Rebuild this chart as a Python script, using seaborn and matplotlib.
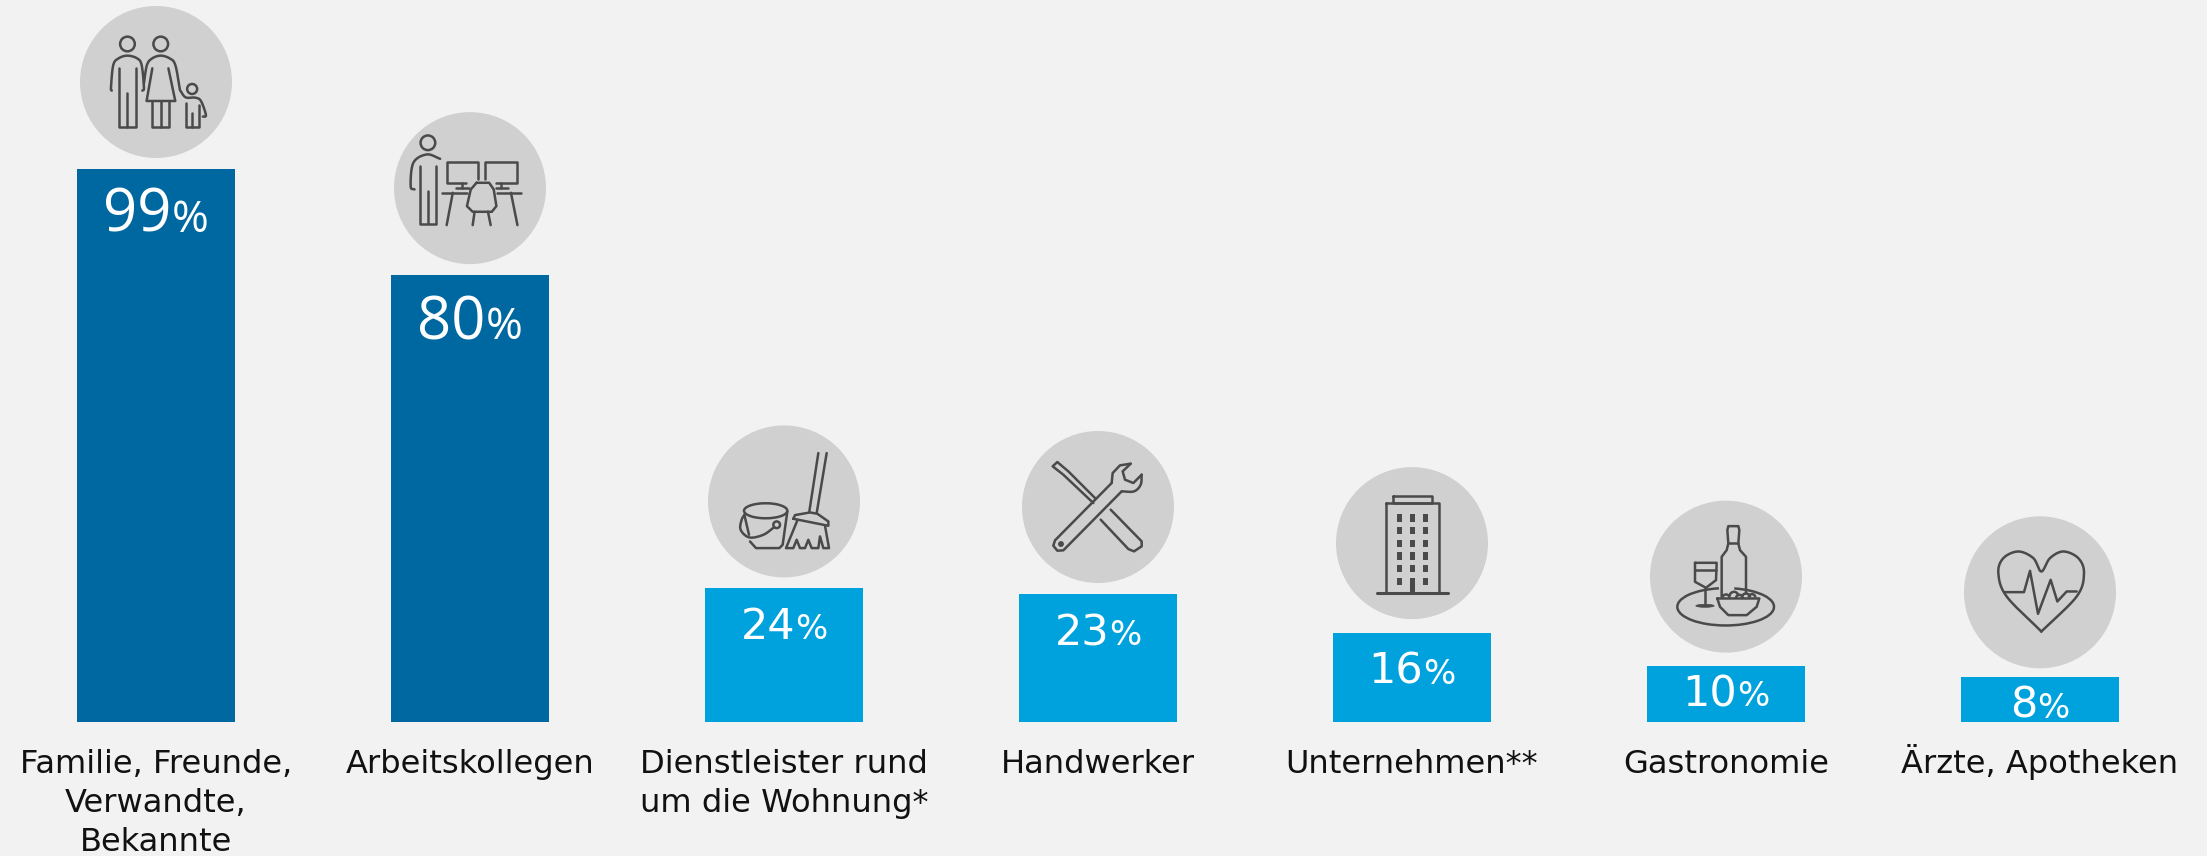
import numpy as np
import pandas as pd
import matplotlib
matplotlib.use("Agg")
import matplotlib.pyplot as plt
from matplotlib.patches import Circle, Ellipse, Arc, Rectangle
import seaborn as sns

# Survey values
categories = ["Familie, Freunde,\nVerwandte,\nBekannte", "Arbeitskollegen",
              "Dienstleister rund\num die Wohnung*", "Handwerker",
              "Unternehmen**", "Gastronomie", "Ärzte, Apotheken"]
shares = [99, 80, 24, 23, 16, 10, 8]
groups = ["privat", "privat", "extern", "extern", "extern", "extern", "extern"]

# Colours
BG = "#f2f2f2"
DARK = "#0068a0"
LIGHT = "#00a2de"
DISC = "#d0d0d0"
INK = "#4a4a4a"

# Layout in pixels
W, H = 2207, 856
BASE_Y = 722
PX_PER_PCT = 5.586
STEP = 314
FIRST_X = 156
LABEL_DROP = [63, 64, 51, 51.5, 51, 40, 40.5]
DISC_GAP = [87, 87, 86.5, 86.5, 89.5, 89.5, 85]
DISC_R = 76

sns.set_theme(style="white", rc={"figure.facecolor": BG, "axes.facecolor": BG})
plt.rcParams["font.family"] = ["DejaVu Sans"]

fig = plt.figure(figsize=(W / 100, H / 100), dpi=100)
ax = fig.add_axes([0, (H - BASE_Y) / H, 1, BASE_Y / H])
df = pd.DataFrame({"cat": categories, "share": shares, "group": groups})
sns.barplot(data=df, x="cat", y="share", hue="group",
            palette={"privat": DARK, "extern": LIGHT}, dodge=False,
            width=0.502, legend=False, ax=ax, saturation=1, linewidth=0)
ax.set_xlim(-FIRST_X / STEP, (W - FIRST_X) / STEP)
ax.set_ylim(0, BASE_Y / PX_PER_PCT)
ax.set_xlabel("")
ax.set_ylabel("")
ax.set_yticks([])
for s in ax.spines.values():
    s.set_visible(False)
ax.tick_params(axis="x", length=0, pad=19.5)
for t in ax.get_xticklabels():
    t.set_fontsize(23.1)
    t.set_color("#111111")
    t.set_linespacing(1.33)
    t.set_ha("center")
    t.set_va("top")
    t.set_multialignment("center")
# The umlaut makes this label taller, so lift it back onto the shared baseline
ax.xaxis.get_major_ticks()[6].set_pad(15.5)

# Transparent pixel-space layer for the value labels and icons
ov = fig.add_axes([0, 0, 1, 1], facecolor="none")
ov.set_xlim(0, W)
ov.set_ylim(H, 0)
ov.axis("off")


def bar_top_px(i):
    x, y = ax.transData.transform((i, shares[i]))
    return x, H - y


renderer = fig.canvas.get_renderer()
for i, v in enumerate(shares):
    x, top = bar_top_px(i)
    big = i < 2
    num_font = "Open Sans" if big else "DejaVu Sans"
    num = ov.text(0, top + LABEL_DROP[i], str(v), color="white", family=num_font,
                  fontsize=43 if big else 31, ha="left", va="baseline")
    pct = ov.text(0, top + LABEL_DROP[i], "%", color="white", family=num_font,
                  fontsize=32 if big else 24.5, ha="left", va="baseline")
    w1 = num.get_window_extent(renderer).width
    w2 = pct.get_window_extent(renderer).width
    num.set_x(x - (w1 + w2) / 2)
    pct.set_x(x - (w1 + w2) / 2 + w1)


# Icon outlines are written on a grid of three units per pixel around a pivot
class Icon:
    def __init__(self, cx, cy, pivot, sx=3.0, sy=3.0):
        self.cx, self.cy, self.px, self.py, self.sx, self.sy = cx, cy, *pivot, sx, sy

    def xy(self, pts):
        a = np.asarray(pts, float)
        return (self.cx + (a[:, 0] - self.px) / self.sx,
                self.cy + (a[:, 1] - self.py) / self.sy)

    def line(self, *pts, curve=False, lw=1.8, close=False):
        x, y = self.xy(pts)
        if close:
            x, y = np.r_[x, x[0]], np.r_[y, y[0]]
        if curve and len(x) > 2:
            x, y = catmull(x, y)
        ov.plot(x, y, color=INK, lw=lw, solid_capstyle="round",
                solid_joinstyle="round", zorder=5)

    def ring(self, c, r, fill=False, lw=1.8):
        x, y = self.xy([c])
        ov.add_patch(Circle((x[0], y[0]), r / self.sy,
                            fc=INK if fill else "none", ec=INK, lw=lw, zorder=5))

    def oval(self, c, w, h, fill=False, t1=0, t2=360, lw=1.8):
        x, y = self.xy([c])
        if fill:
            ov.add_patch(Ellipse((x[0], y[0]), w / self.sx, h / self.sy, fc=INK, ec=INK, lw=0.5, zorder=5))
        else:
            ov.add_patch(Arc((x[0], y[0]), w / self.sx, h / self.sy, theta1=t1, theta2=t2,
                             ec=INK, lw=lw, zorder=5))

    def box(self, x0, y0, x1, y1, fill=False):
        if fill:
            a, b = self.xy([(x0, y0), (x1, y1)])
            ov.add_patch(Rectangle((a[0], b[0]), a[1] - a[0], b[1] - b[0], fc=INK, ec="none", zorder=5))
        else:
            self.line((x0, y0), (x1, y0), (x1, y1), (x0, y1), close=True)


def catmull(x, y, n=12):
    p = np.column_stack([x, y])
    p = np.vstack([2 * p[0] - p[1], p, 2 * p[-1] - p[-2]])
    out = []
    for k in range(1, len(p) - 2):
        t = np.linspace(0, 1, n, endpoint=False)[:, None]
        a, b, c, d = p[k - 1], p[k], p[k + 1], p[k + 2]
        out.append(0.5 * (2 * b + (c - a) * t + (2 * a - 5 * b + 4 * c - d) * t ** 2
                          + (3 * b - a - 3 * c + d) * t ** 3))
    out.append(p[-2][None, :])
    out = np.vstack(out)
    return out[:, 0], out[:, 1]


def family(ic):
    ic.ring((333, 132), 22)
    ic.ring((420, 132), 22)
    ic.ring((502, 267), 15)
    ic.line((292, 272), (290, 262), (296, 195), (310, 175), (333, 167), (358, 175), (370, 195), (376, 262), (372, 272), curve=True)
    ic.line((311, 205), (311, 382), (355, 382), (355, 205))
    ic.line((333, 280), (333, 382))
    ic.line((376, 250), (384, 195), (398, 175), (420, 167), (443, 175), (458, 195), (470, 268), curve=True)
    ic.line((398, 205), (383, 303), (458, 303), (440, 205))
    ic.line((398, 303), (398, 382), (442, 382), (442, 303))
    ic.line((420, 303), (420, 382))
    ic.line((470, 270), (485, 292), (510, 293), (525, 303), (538, 345), (530, 350), curve=True)
    ic.line((487, 310), (487, 382), (520, 382), (520, 315))
    ic.line((502, 340), (502, 382))


def workplace(ic):
    ic.ring((1118, 425), 22)
    ic.line((1083, 565), (1073, 555), (1080, 485), (1115, 460), (1150, 473), curve=True)
    ic.line((1097, 495), (1097, 668), (1138, 668), (1138, 495))
    ic.line((1118, 570), (1118, 665))
    ic.line((1218, 545), (1167, 545), (1167, 483), (1250, 483), (1250, 535))
    ic.line((1268, 535), (1268, 483), (1352, 483), (1352, 545), (1295, 545))
    ic.line((1208, 545), (1208, 562))
    ic.line((1192, 562), (1225, 562))
    ic.line((1310, 545), (1310, 562))
    ic.line((1295, 562), (1328, 562))
    ic.line((1155, 575), (1220, 575))
    ic.line((1298, 575), (1362, 575))
    ic.line((1183, 575), (1167, 672))
    ic.line((1335, 575), (1352, 672))
    ic.line((1245, 545), (1278, 545), (1290, 565), (1297, 615), (1285, 632), (1235, 632), (1220, 615), (1230, 565), close=True)
    ic.line((1240, 632), (1235, 672))
    ic.line((1275, 632), (1282, 672))


def cleaning(ic):
    ic.oval((257, 273), 130, 45)
    ic.line((193, 285), (207, 345))
    ic.line((322, 275), (308, 375), (298, 385), (228, 385), (210, 365), curve=False)
    ic.ring((290, 315), 10)
    ic.line((283, 322), (250, 345), (208, 353), (182, 330), (185, 300), (195, 283), curve=True)
    ic.line((415, 100), (388, 275))
    ic.line((440, 100), (410, 280))
    ic.line((340, 297), (345, 286), (390, 278), (412, 282), (445, 305), (445, 318), close=True)
    ic.line((352, 302), (318, 385), (340, 385), (350, 360), (360, 385), (375, 385), (385, 360),
            (395, 385), (415, 385), (420, 350), (430, 385), (447, 385), (435, 318))


def tools(ic):
    ic.line((1240, 250), (1150, 165), (1118, 140), (1132, 127), (1165, 155), (1245, 235))
    ic.line((1292, 270), (1385, 365), (1385, 380), (1362, 395), (1345, 388), (1262, 300))
    ic.line((1295, 190), (1125, 362), (1120, 378), (1132, 393), (1150, 392), (1325, 215))
    ic.line((1295, 190), (1298, 160), (1320, 137), (1352, 132))
    ic.line((1352, 132), (1328, 155), (1335, 180), (1360, 190), (1385, 165))
    ic.line((1385, 165), (1382, 195), (1362, 215), (1325, 215), curve=True)
    ic.ring((1143, 373), 5, fill=True)


def building(ic):
    ic.box(280, 138, 398, 160)
    ic.box(260, 160, 417, 430)
    ic.line((232, 430), (445, 430), lw=2.2)
    for col in (300, 338, 377):
        for row in (205, 243, 281, 319, 357, 395):
            if col == 338 and row == 395:
                continue
            ic.box(col - 8, row - 11, col + 8, row + 11, fill=True)
    ic.box(331, 385, 346, 430, fill=True)


def dining(ic):
    ic.oval((317, 350), 290, 112, t1=295, t2=250)
    ic.line((225, 218), (290, 218), (288, 270), (258, 293), (225, 275), close=True)
    ic.line((225, 240), (288, 240))
    ic.line((256, 293), (256, 345))
    ic.oval((255, 347), 55, 9, fill=True)
    ic.line((305, 320), (305, 200), (320, 180), (325, 160), (322, 120), (325, 108), (355, 108),
            (358, 120), (355, 160), (360, 180), (378, 200), (378, 310))
    ic.line((325, 158), (355, 158))
    ic.line((292, 325), (418, 325), (410, 350), (380, 375), (325, 375), (300, 350), close=True)
    for c, r in (((318, 324), 11), ((342, 318), 13), ((358, 324), 10), ((378, 322), 12), ((396, 322), 10)):
        ic.oval(c, 2 * r, 2 * r, t1=180, t2=360)


def health(ic):
    ic.line((1264, 425), (1160, 320), (1135, 250), (1150, 205), (1195, 185), (1240, 205), (1264, 245),
            (1290, 205), (1330, 185), (1375, 205), (1392, 250), (1370, 320), (1264, 425), curve=True)
    ic.line((1155, 307), (1212, 307), (1230, 243), (1254, 372), (1292, 270), (1312, 335), (1340, 305), (1370, 305))


ICONS = [
    (family, (407.6, 246), 2.613, 3.0),
    (workplace, (1228, 561), 2.613, 3.0),
    (cleaning, (312, 245), 3.0, 3.0),
    (tools, (1254, 262), 3.0, 3.0),
    (building, (337.5, 280), 3.0, 3.0),
    (dining, (318, 259.5), 3.0, 3.0),
    (health, (1260, 307.5), 3.0, 3.0),
]

for i, (draw, pivot, sx, sy) in enumerate(ICONS):
    x, top = bar_top_px(i)
    cy = top - DISC_GAP[i]
    ov.add_patch(Circle((x, cy), DISC_R, fc=DISC, ec="none", zorder=4))
    draw(Icon(x, cy, pivot, sx, sy))

fig.savefig("out.png", dpi=100, facecolor=BG)
